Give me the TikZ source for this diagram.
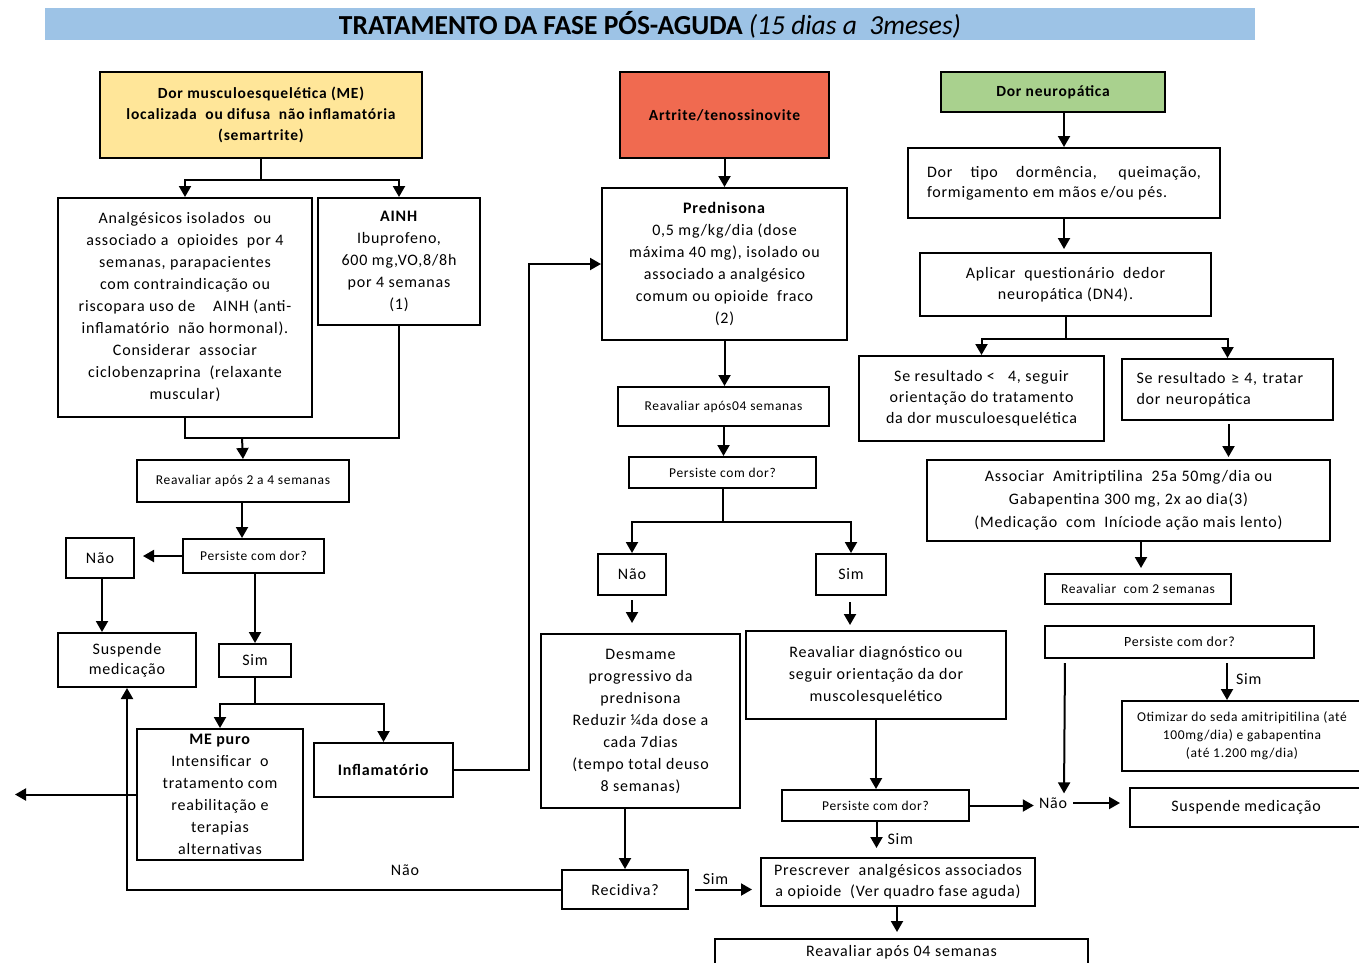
\documentclass[tikz,border=0pt]{standalone}
\usepackage{fontspec}
\setmainfont{Carlito}[LetterSpace=5]
\newfontfamily\titlefont{Carlito}
\usetikzlibrary{arrows.meta}
\definecolor{titlebar}{RGB}{157,195,230}
\definecolor{meyellow}{RGB}{255,230,153}
\definecolor{artred}{RGB}{240,106,80}
\definecolor{neugreen}{RGB}{169,209,142}
\newcommand\setfs[2]{\fontsize{#1}{#2}\selectfont}
\begin{document}
\begin{tikzpicture}[x=1pt,y=-1pt,
  box/.style={draw=black, line width=2pt, inner sep=0pt, align=center, anchor=north west, font=\setfs{16}{22}},
  small/.style={font=\setfs{13.5}{16}},
  tiny/.style={font=\setfs{13.5}{15}},
  hdr/.style={font=\bfseries\setfs{15.5}{21}},
  lbl/.style={inner sep=2pt, font=\setfs{16}{18}},
  ln/.style={line width=2pt},
  arr/.style={line width=2pt, -{Triangle[length=11pt,width=12pt]}},
]
\useasboundingbox (0,0) rectangle (1359,962);
\fill[white] (0,0) rectangle (1359,962);
% title
\fill[titlebar] (45,8) rectangle (1255,40);
\node[inner sep=0pt] (title) at (650,25) {\titlefont\setfs{27.5}{29}\textbf{TRATAMENTO DA FASE PÓS-AGUDA} \textit{(15 dias a\ \ 3meses)}};

% ---------- left column ----------
\node[box, hdr, fill=meyellow, minimum width=322pt, minimum height=86pt] (me) at (99,71)
  {Dor musculoesquelética (ME)\\localizada\ \ ou difusa\ \ não inflamatória\\(semartrite)};
\node[box, minimum width=254pt, minimum height=219pt] (an) at (57,197)
  {Analgésicos isolados\ \ ou\\associado a\ \ opioides\ \ por 4\\semanas, parapacientes\\com contraindicação ou\\riscopara uso de\ \ \ \ AINH (anti-\\inflamatório\ \ não hormonal).\\Considerar\ \ associar\\ciclobenzaprina\ \ (relaxante\\muscular)};
\node[box, minimum width=162pt, minimum height=127pt] (ainh) at (317,197)
  {\textbf{AINH}\\Ibuprofeno,\\600 mg,VO,8/8h\\por 4 semanas\\(1)};
\node[box, small, minimum width=212pt, minimum height=42pt] (reav1) at (136,459) {Reavaliar após 2 a 4 semanas};
\node[box, small, minimum width=141pt, minimum height=34pt] (per1) at (182,538) {Persiste com dor?};
\node[box, minimum width=68pt, minimum height=40pt] (nao1) at (65,537) {Não};
\node[box, font=\setfs{16}{20}, minimum width=138pt, minimum height=54pt] (susp1) at (57,632) {Suspende\\medicação};
\node[box, minimum width=72pt, minimum height=33pt] (sim1) at (218,643) {Sim};
\node[box, minimum width=166pt, minimum height=131pt] (mep) at (136,728)
  {\textbf{ME puro}\\Intensificar\ \ o\\tratamento com\\reabilitação e\\terapias\\alternativas};
\node[box, minimum width=139pt, minimum height=54pt] (infl) at (313,742) {\textbf{Inflamatório}};
\coordinate (leftend) at (15,796);

% ---------- middle column ----------
\node[box, hdr, fill=artred, minimum width=209pt, minimum height=86pt] (art) at (619,71) {Artrite/tenossinovite};
\node[box, minimum width=245pt, minimum height=152pt] (pred) at (601,187)
  {\textbf{Prednisona}\\0,5 mg/kg/dia (dose\\máxima 40 mg), isolado ou\\associado a analgésico\\comum ou opioide\ \ fraco\\(2)};
\node[box, tiny, minimum width=211pt, minimum height=39pt] (reav2) at (617,386) {Reavaliar após04 semanas};
\node[box, small, minimum width=187pt, minimum height=31pt] (per2) at (628,456) {Persiste com dor?};
\node[box, minimum width=68pt, minimum height=41pt] (nao3) at (597,553) {Não};
\node[box, minimum width=70pt, minimum height=41pt] (sim3) at (815,553) {Sim};
\node[box, minimum width=199pt, minimum height=174pt] (desm) at (540,633)
  {Desmame\\progressivo da\\prednisona\\Reduzir ¼da dose a\\cada 7dias\\(tempo total deuso\\8 semanas)};
\node[box, minimum width=260pt, minimum height=88pt] (rd) at (745,630)
  {Reavaliar diagnóstico ou\\seguir orientação da dor\\muscolesquelético};
\node[box, small, minimum width=187pt, minimum height=31pt] (per3) at (781,789) {Persiste com dor?};
\node[box, minimum width=126pt, minimum height=39pt] (recid) at (561,869) {Recidiva?};
\node[box, font=\setfs{16}{21}, minimum width=274pt, minimum height=48pt] (presc) at (760,857)
  {Prescrever\ \ analgésicos associados\\a opioide\ \ (Ver quadro fase aguda)};
\node[box, minimum width=373pt, minimum height=26pt] (reav3) at (714,938) {Reavaliar após 04 semanas};

% ---------- right column ----------
\node[box, hdr, fill=neugreen, minimum width=224pt, minimum height=40pt] (neuro) at (940,71) {Dor neuropática};
\node[box, align=left, font=\setfs{16}{20}, minimum width=312pt, minimum height=70pt] (dortipo) at (907,147)
  {\makebox[274pt][s]{Dor tipo dormência, queimação,}\\formigamento em mãos e/ou pés.};
\node[box, font=\setfs{16}{21}, minimum width=291pt, minimum height=63pt] (apl) at (919,252)
  {Aplicar\ \ questionário\ \ dedor\\neuropática (DN4).};
\node[box, font=\setfs{16}{21}, minimum width=245pt, minimum height=85pt] (se1) at (858,355)
  {Se resultado <\ \ \ 4, seguir\\orientação do tratamento\\da dor musculoesquelética};
\node[box, align=left, font=\setfs{16}{21}, minimum width=211pt, minimum height=61pt, text width=182pt] (se2) at (1121,358)
  {Se resultado ≥ 4, tratar\\dor neuropática};
\node[box, font=\setfs{16}{23}, minimum width=403pt, minimum height=81pt] (assoc) at (926,459)
  {Associar\ \ Amitriptilina\ \ 25a 50mg/dia ou\\Gabapentina 300 mg, 2x ao dia(3)\\(Medicação\ \ com\ \ Iníciode ação mais lento)};
\node[box, tiny, minimum width=186pt, minimum height=30pt] (reav4) at (1044,573) {Reavaliar\ \ com 2 semanas};
\node[box, font=\setfs{14}{16}, minimum width=269pt, minimum height=32pt] (per4) at (1044,625) {Persiste com dor?};
\node[box, font=\setfs{13.5}{18}, minimum width=240pt, minimum height=70pt] (opt) at (1121,700)
  {Otimizar do seda amitripitilina (até\\100mg/dia) e gabapentina\\(até 1.200 mg/dia)};
\node[box, minimum width=232pt, minimum height=39pt] (susp2) at (1129,787) {Suspende medicação};
\node[lbl] (nao4) at (1053,803) {Não};

% ---------- connectors: left ----------
\coordinate (j1) at ([yshift=-21pt]me.south);
\draw[ln] (me.south) -- (j1);
\draw[arr] (j1) -| (an.north);
\draw[arr] (j1) -| (ainh.north);
\coordinate (j2) at (242,438);
\draw[ln] (an.south) |- (j2) -| (ainh.south);
\draw[arr] (j2) -- (reav1.south |- reav1.north);
\draw[arr] ([xshift=-1pt]reav1.south) -- ([xshift=-1pt]reav1.south |- per1.north);
\draw[arr, shorten >=8pt] (per1.west) -- (per1.west -| nao1.east);
\draw[arr] ([xshift=2pt]nao1.south) -- ([xshift=2pt]nao1.south |- susp1.north);
\draw[arr] (sim1.north |- per1.south) -- (sim1.north);
\coordinate (j3) at ([yshift=-26pt]sim1.south);
\draw[ln] (sim1.south) -- (j3);
\draw[arr] (j3) -| (mep.north);
\draw[arr] (j3) -| (infl.north);
\draw[arr] (mep.west) -- (mep.west -| leftend);
\draw[arr] (infl.east) -- ++(75,0) |- (pred.west);
\draw[arr] (recid.west) -| (susp1.south);
\node[lbl] (nao2) at (405,870) {Não};

% ---------- connectors: middle ----------
\draw[arr] (art.south) -- (pred.north);
\draw[arr] (pred.south) -- (pred.south |- reav2.north);
\draw[arr] (reav2.south) -- (reav2.south |- per2.north);
\coordinate (j5) at ([yshift=-33pt]per2.south);
\draw[ln] (per2.south) -- (j5);
\draw[arr] (j5) -| (nao3.north);
\draw[arr] (j5) -| (sim3.north);
\draw[arr, shorten <=4pt, shorten >=10pt] (nao3.south) -- (nao3.south |- desm.north);
\draw[arr, shorten <=6pt, shorten >=5pt] ([xshift=-1pt]sim3.south) -- ([xshift=-1pt]sim3.south |- rd.north);
\draw[arr] (recid.north |- desm.south) -- (recid.north);
\draw[arr] (rd.south) -- (rd.south |- per3.north);
\draw[arr, shorten >=9pt] ([xshift=1pt]per3.south) -- ([xshift=1pt]per3.south |- presc.north) node[midway, right=8pt, lbl] (sim5) {Sim};
\draw[arr, shorten <=6pt, shorten >=8pt] (recid.east) -- (recid.east -| presc.west) node[midway, above=2pt, xshift=-9pt, lbl] (sim4) {Sim};
\draw[arr, shorten >=6pt] ([xshift=-1pt]presc.south) -- ([xshift=-1pt]presc.south |- reav3.north);
\draw[arr, shorten >=3pt] (per3.east) -- (per3.east -| nao4.west);
\draw[arr, shorten <=4pt, shorten >=9pt] (nao4.east) -- (nao4.east -| susp2.west);

% ---------- connectors: right ----------
\draw[arr] (neuro.south -| dortipo.north) -- (dortipo.north);
\draw[arr, shorten >=3pt] (dortipo.south) -- (dortipo.south |- apl.north);
\coordinate (j6) at ([yshift=-22pt]apl.south);
\draw[ln] (apl.south) -- (j6);
\draw[arr] (j6) -| (se1.north);
\draw[arr] (j6) -| (se2.north);
\draw[arr, shorten <=3pt, shorten >=2pt] ([xshift=1pt]se2.south) -- ([xshift=1pt]se2.south |- assoc.north);
\draw[arr, shorten >=5pt] ([xshift=3pt]reav4.north |- assoc.south) -- ([xshift=3pt]reav4.north);
\draw[arr, shorten <=4pt, shorten >=2pt] ([xshift=-114.5pt]per4.south) -- ([xshift=11pt]nao4.north);
\draw[arr, shorten <=4pt] ([xshift=47.5pt]per4.south) -- ([xshift=-15pt]opt.north) node[midway, right=6pt, lbl] (sim6) {Sim};
\end{tikzpicture}
\end{document}
